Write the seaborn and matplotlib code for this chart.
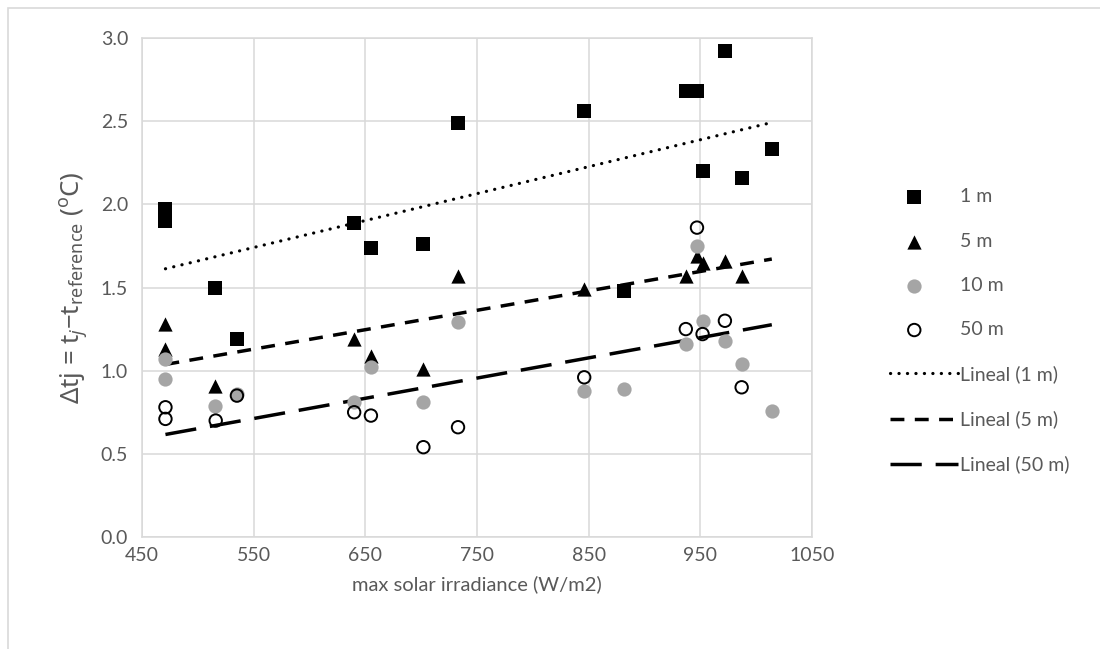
import matplotlib
matplotlib.use("Agg")
import matplotlib.pyplot as plt
import seaborn as sns
from matplotlib.patches import Rectangle
from matplotlib.collections import PathCollection
from matplotlib.legend_handler import HandlerPathCollection

# ---- data ----
irr_1m = [471, 471, 515, 535, 640, 655, 702, 733, 846, 882, 937, 947, 972, 952, 987, 1014]
dt_1m = [1.97, 1.90, 1.50, 1.19, 1.89, 1.74, 1.76, 2.49, 2.56, 1.48, 2.68, 2.68, 2.92, 2.20, 2.16, 2.33]

irr_5m = [471, 471, 515, 640, 655, 702, 733, 846, 937, 947, 952, 972, 987]
dt_5m = [1.28, 1.13, 0.91, 1.19, 1.09, 1.01, 1.57, 1.49, 1.57, 1.69, 1.65, 1.66, 1.57]

irr_10m = [471, 471, 515, 535, 640, 655, 702, 733, 846, 882, 937, 947, 952, 972, 987, 1014]
dt_10m = [1.07, 0.95, 0.79, 0.86, 0.81, 1.02, 0.81, 1.29, 0.88, 0.89, 1.16, 1.75, 1.30, 1.18, 1.04, 0.76]

irr_50m = [471, 471, 516, 535, 640, 655, 702, 733, 846, 937, 947, 952, 972, 987]
dt_50m = [0.78, 0.71, 0.70, 0.85, 0.75, 0.73, 0.54, 0.66, 0.96, 1.25, 1.86, 1.22, 1.30, 0.90]

x_ticks = [450, 550, 650, 750, 850, 950, 1050]
y_ticks = [0.0, 0.5, 1.0, 1.5, 2.0, 2.5, 3.0]

series_labels = ["1 m", "5 m", "10 m", "50 m"]
trend_labels = ["Lineal (1 m)", "Lineal (5 m)", "Lineal (50 m)"]

x_label = "max solar irradiance (W/m2)"
y_label = r"Δtj = t$_{j}$−t$_{\mathrm{reference}}$ ($^{\mathrm{o}}$C)"

# ---- style ----
sns.set_theme(style="whitegrid")
plt.rcParams['font.family'] = ['Lato', 'DejaVu Sans']
plt.rcParams['mathtext.fontset'] = 'custom'
plt.rcParams['mathtext.rm'] = 'Noto Sans'
plt.rcParams['mathtext.it'] = 'Noto Sans:italic'
plt.rcParams['mathtext.bf'] = 'Noto Sans:bold'

GRID = '#d9d9d9'
TXT = '#595959'

fig = plt.figure(figsize=(11, 6.49), dpi=100)
ax = fig.add_axes([142/1100, 1-537/649, (812-142)/1100, (537-38)/649])

# scatter series
sns.scatterplot(x=irr_1m, y=dt_1m, ax=ax, marker='s', s=115, color='black',
                linewidth=0, label=series_labels[0], zorder=3)
sns.scatterplot(x=irr_5m, y=dt_5m, ax=ax, marker='^', s=105, color='black',
                linewidth=0, label=series_labels[1], zorder=3)
sns.scatterplot(x=irr_10m, y=dt_10m, ax=ax, marker='o', s=105, color='#a5a5a5',
                linewidth=0, label=series_labels[2], zorder=3)
sns.scatterplot(x=irr_50m, y=dt_50m, ax=ax, marker='o', s=80, facecolor='none',
                edgecolor='black', linewidth=1.4, label=series_labels[3], zorder=4)

# trend lines (least squares fits) spanning the full range of measured days
ax.set_xlim(min(irr_1m), max(irr_1m))
sns.regplot(x=irr_1m, y=dt_1m, ax=ax, scatter=False, ci=None, truncate=False,
            label=trend_labels[0],
            line_kws=dict(color='black', lw=2.3, linestyle=(0, (0.05, 2.6)),
                          dash_capstyle='round', zorder=2))
sns.regplot(x=irr_5m, y=dt_5m, ax=ax, scatter=False, ci=None, truncate=False,
            label=trend_labels[1],
            line_kws=dict(color='black', lw=2.5, linestyle=(0, (4, 3)), zorder=2))
sns.regplot(x=irr_50m, y=dt_50m, ax=ax, scatter=False, ci=None, truncate=False,
            label=trend_labels[2],
            line_kws=dict(color='black', lw=2.5, linestyle=(0, (9, 4)), zorder=2))

ax.set_xlim(450, 1050)
ax.set_ylim(0, 3.0)
ax.set_xticks(x_ticks)
ax.set_yticks(y_ticks)
ax.set_yticklabels([f"{v:.1f}" for v in y_ticks])
ax.grid(True, color=GRID, lw=1.1)
for sp in ax.spines.values():
    sp.set_color(GRID)
    sp.set_linewidth(1.1)
ax.tick_params(axis='both', length=0, labelsize=14, labelcolor=TXT)
ax.tick_params(axis='x', pad=7)
ax.tick_params(axis='y', pad=10)

ax.set_xlabel(x_label, fontsize=14.5, color=TXT, labelpad=8)
ax.set_ylabel(y_label, fontsize=18.5, color=TXT, labelpad=8,
              family=['Noto Sans', 'DejaVu Sans'])


class LeftMarkerHandler(HandlerPathCollection):
    """Place the legend marker left of the handle centre, like the reference."""
    def get_xdata(self, legend, xdescent, ydescent, width, height, fontsize):
        xm = -xdescent + 0.36 * width
        return [xm], [xm]


handles, labels = ax.get_legend_handles_labels()
leg = ax.legend(handles, labels, loc='center left', bbox_to_anchor=(882/1100, 1-331/649),
                bbox_transform=fig.transFigure, frameon=False, fontsize=14,
                handlelength=3.5, handletextpad=0.1, labelspacing=1.4,
                scatterpoints=1, borderaxespad=0,
                handler_map={PathCollection: LeftMarkerHandler()})
for t in leg.get_texts():
    t.set_color(TXT)

# outer chart border (only top and left visible in the reference)
fig.add_artist(Rectangle((8/1100, -0.5), 2.0, 1.5 - 8/649, transform=fig.transFigure,
                         fill=False, edgecolor=GRID, lw=1.2))

fig.savefig("out.png", dpi=100)
